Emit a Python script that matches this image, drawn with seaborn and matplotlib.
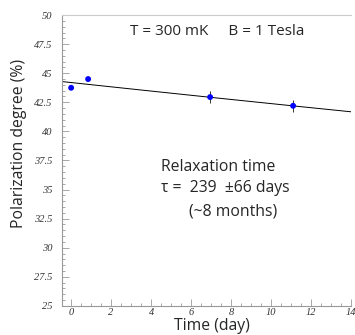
import numpy as np
import pandas as pd
import matplotlib
matplotlib.use("Agg")
import matplotlib.pyplot as plt
import seaborn as sns
from matplotlib.ticker import MultipleLocator

# measured points
time_day = [0.0, 0.85, 6.95, 11.1]
polarization = [43.75, 44.5, 42.95, 42.2]
pol_err = [0.0, 0.0, 0.5, 0.5]

# exponential fit
p0 = 44.2
tau = 239.0

df = pd.DataFrame({"time": time_day, "pol": polarization})
t_fit = np.linspace(-0.45, 14.3, 50)
fit_df = pd.DataFrame({"time": t_fit, "pol": p0 * np.exp(-t_fit / tau)})

sns.set_style("ticks")
fig = plt.figure(figsize=(3.55, 3.35), dpi=100)
ax = fig.add_axes([0.175, 0.087, 0.814, 0.868])

sns.lineplot(data=fit_df, x="time", y="pol", color="black", linewidth=0.7, ax=ax)
ax.errorbar(time_day, polarization, yerr=pol_err, fmt="none", ecolor="#333333", elinewidth=0.7)
sns.scatterplot(data=df, x="time", y="pol", color="blue", s=18, edgecolor="none", ax=ax, zorder=3)

ax.set_xlim(-0.45, 14.0)
ax.set_ylim(25, 50)
ax.xaxis.set_major_locator(MultipleLocator(2))
ax.xaxis.set_minor_locator(MultipleLocator(0.5))
ax.yaxis.set_major_locator(MultipleLocator(2.5))
ax.yaxis.set_minor_locator(MultipleLocator(0.5))
ax.tick_params(which="both", direction="in", color="#999999", width=0.6)
ax.tick_params(which="major", length=5)
ax.tick_params(which="minor", length=2.5)
ax.set_xticks([0, 2, 4, 6, 8, 10, 12, 14])
ax.set_yticks([25, 27.5, 30, 32.5, 35, 37.5, 40, 42.5, 45, 47.5, 50])
ax.set_yticklabels(["25", "27.5", "30", "32.5", "35", "37.5", "40", "42.5", "45", "47.5", "50"])
for lab in ax.get_xticklabels() + ax.get_yticklabels():
    lab.set_fontfamily("Liberation Serif")
    lab.set_fontstyle("italic")
    lab.set_fontsize(7.5)
    lab.set_color("#333333")
ax.tick_params(axis="y", pad=7)
ax.tick_params(axis="x", pad=1.5)

for sp in ax.spines.values():
    sp.set_color("#999999")
    sp.set_linewidth(0.8)
ax.spines["right"].set_visible(False)
ax.spines["top"].set_color("#cccccc")

ax.set_xlabel("Time (day)", fontsize=11.3, family="Open Sans")
ax.xaxis.set_label_coords(0.52, -0.042)
ax.set_ylabel("Polarization degree (%)", fontsize=11.3, family="Open Sans")
ax.yaxis.set_label_coords(-0.12, 0.56)

ax.text(0.235, 0.945, "T = 300 mK     B = 1 Tesla", transform=ax.transAxes,
        fontsize=11, family="Open Sans", va="center")
ax.text(0.343, 0.478, "Relaxation time", transform=ax.transAxes,
        fontsize=11.3, family="Open Sans", va="center")
ax.text(0.343, 0.405, "τ =  239  ±66 days", transform=ax.transAxes,
        fontsize=11.3, family="Open Sans", va="center")
ax.text(0.44, 0.323, "(~8 months)", transform=ax.transAxes,
        fontsize=11.3, family="Open Sans", va="center")

fig.savefig("out.png", dpi=100)
